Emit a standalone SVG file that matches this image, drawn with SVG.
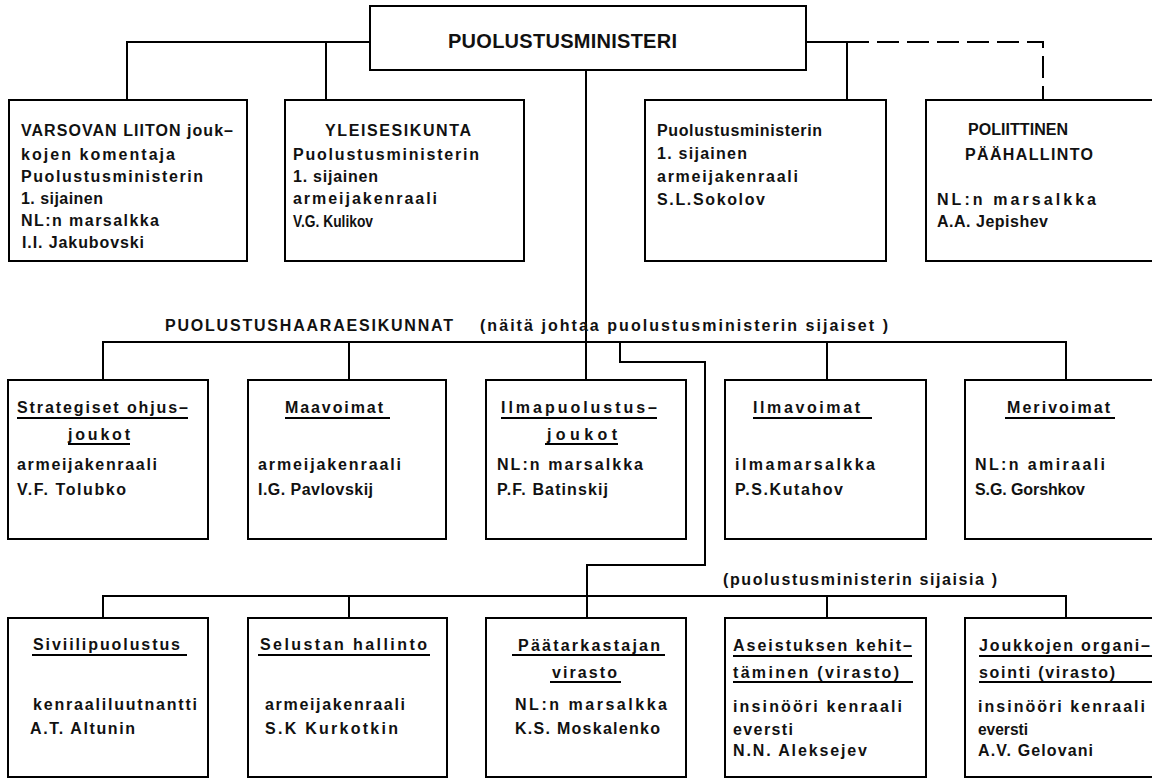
<svg xmlns="http://www.w3.org/2000/svg" width="1152" height="779" viewBox="0 0 1152 779">
  <style>
    .box { fill: #fff; stroke: #000; stroke-width: 2; }
    .ln { fill: none; stroke: #000; stroke-width: 2; }
    .dash { stroke-dasharray: 22 8; }
    .ul { stroke: #000; stroke-width: 1.8; }
    text { font-family: "Liberation Sans", Arial, sans-serif; font-weight: bold; font-size: 16px; fill: #111; }
    .title { font-size: 20px; }
  </style>
  <rect width="1152" height="779" fill="#fff"/>

  <!-- connectors -->
  <g id="connectors">
    <path class="ln" d="M370,42 H127 V100 M326,42 V100"/>
    <path class="ln" d="M806,42 H847 V100"/>
    <path class="ln dash" d="M847,42 H1043 V100"/>
    <path class="ln" d="M586,70 V380"/>
    <path class="ln" d="M103,380 V342 H1066 V380 M349,342 V380 M827,342 V380"/>
    <path class="ln" d="M620,342 V362 H705 V565 H587 V618"/>
    <path class="ln" d="M103,618 V596 H1066 V618 M349,596 V618 M827,596 V618"/>
  </g>

  <!-- top -->
  <g id="ministeri">
    <rect class="box" x="370" y="6" width="436" height="64"/>
    <text class="title" x="448" y="48" textLength="229">PUOLUSTUSMINISTERI</text>
  </g>

  <g id="varsovan-liitto">
    <rect class="box" x="9" y="100" width="238" height="161"/>
    <text x="21" y="136" textLength="212">VARSOVAN LIITON jouk–</text>
    <text x="21" y="160" textLength="154">kojen komentaja</text>
    <text x="21" y="182" textLength="182">Puolustusministerin</text>
    <text x="21" y="204" textLength="82">1. sijainen</text>
    <text x="21" y="226" textLength="138">NL:n marsalkka</text>
    <text x="22" y="248" textLength="122">I.I. Jakubovski</text>
  </g>

  <g id="yleisesikunta">
    <rect class="box" x="285" y="100" width="239" height="161"/>
    <text x="325" y="136" textLength="146">YLEISESIKUNTA</text>
    <text x="293" y="160" textLength="186">Puolustusministerin</text>
    <text x="293" y="182" textLength="85">1. sijainen</text>
    <text x="293" y="204" textLength="144">armeijakenraali</text>
    <text x="293" y="227" textLength="80" lengthAdjust="spacingAndGlyphs">V.G. Kulikov</text>
  </g>

  <g id="sijainen-sokolov">
    <rect class="box" x="645" y="100" width="241" height="161"/>
    <text x="657" y="136" textLength="165">Puolustusministerin</text>
    <text x="657" y="159" textLength="90">1. sijainen</text>
    <text x="657" y="182" textLength="141">armeijakenraali</text>
    <text x="657" y="205" textLength="108">S.L.Sokolov</text>
  </g>

  <g id="poliittinen-paahallinto">
    <rect class="box" x="926" y="100" width="240" height="161"/>
    <text x="968" y="135" textLength="100">POLIITTINEN</text>
    <text x="965" y="160" textLength="128">PÄÄHALLINTO</text>
    <text x="937" y="205" textLength="159">NL:n marsalkka</text>
    <text x="937" y="227" textLength="111">A.A. Jepishev</text>
  </g>

  <!-- service branch headquarters -->
  <g id="label-puolustushaarat">
    <text x="165" y="331" textLength="288">PUOLUSTUSHAARAESIKUNNAT</text>
    <text x="480" y="331" textLength="408">(näitä johtaa puolustusministerin sijaiset )</text>
  </g>

  <g id="strategiset-ohjusjoukot">
    <rect class="box" x="8" y="380" width="200" height="159"/>
    <text x="17" y="413" textLength="171">Strategiset ohjus–</text>
    <line class="ul" x1="17" y1="418" x2="188" y2="418"/>
    <text x="68" y="440" textLength="62">joukot</text>
    <line class="ul" x1="68" y1="444" x2="130" y2="444"/>
    <text x="17" y="470" textLength="140">armeijakenraali</text>
    <text x="17" y="495" textLength="109">V.F. Tolubko</text>
  </g>

  <g id="maavoimat">
    <rect class="box" x="248" y="380" width="198" height="159"/>
    <text x="285" y="413" textLength="98">Maavoimat</text>
    <line class="ul" x1="285" y1="418" x2="390" y2="418"/>
    <text x="258" y="470" textLength="143">armeijakenraali</text>
    <text x="258" y="495" textLength="115">I.G. Pavlovskij</text>
  </g>

  <g id="ilmapuolustusjoukot">
    <rect class="box" x="486" y="380" width="200" height="159"/>
    <text x="501" y="413" textLength="156">Ilmapuolustus–</text>
    <line class="ul" x1="501" y1="418" x2="657" y2="418"/>
    <text x="547" y="440" textLength="70">joukot</text>
    <line class="ul" x1="545" y1="444" x2="618" y2="444"/>
    <text x="497" y="470" textLength="146">NL:n marsalkka</text>
    <text x="497" y="495" textLength="111">P.F. Batinskij</text>
  </g>

  <g id="ilmavoimat">
    <rect class="box" x="725" y="380" width="201" height="159"/>
    <text x="753" y="413" textLength="107">Ilmavoimat</text>
    <line class="ul" x1="753" y1="418" x2="872" y2="418"/>
    <text x="735" y="470" textLength="140">ilmamarsalkka</text>
    <text x="735" y="495" textLength="108">P.S.Kutahov</text>
  </g>

  <g id="merivoimat">
    <rect class="box" x="965" y="380" width="200" height="159"/>
    <text x="1007" y="413" textLength="103">Merivoimat</text>
    <line class="ul" x1="1005" y1="418" x2="1115" y2="418"/>
    <text x="975" y="470" textLength="130">NL:n amiraali</text>
    <text x="975" y="495" textLength="110">S.G. Gorshkov</text>
  </g>

  <!-- deputies -->
  <g id="label-sijaisia">
    <text x="723" y="585" textLength="274">(puolustusministerin sijaisia )</text>
  </g>

  <g id="siviilipuolustus">
    <rect class="box" x="8" y="618" width="200" height="159"/>
    <text x="33" y="650" textLength="147">Siviilipuolustus</text>
    <line class="ul" x1="32" y1="655" x2="187" y2="655"/>
    <text x="33" y="710" textLength="164">kenraaliluutnantti</text>
    <text x="30" y="734" textLength="105">A.T. Altunin</text>
  </g>

  <g id="selustan-hallinto">
    <rect class="box" x="248" y="618" width="199" height="159"/>
    <text x="260" y="650" textLength="167">Selustan hallinto</text>
    <line class="ul" x1="258" y1="655" x2="430" y2="655"/>
    <text x="265" y="710" textLength="140">armeijakenraali</text>
    <text x="265" y="734" textLength="133">S.K Kurkotkin</text>
  </g>

  <g id="paatarkastajan-virasto">
    <rect class="box" x="486" y="618" width="200" height="159"/>
    <text x="518" y="651" textLength="142">Päätarkastajan</text>
    <line class="ul" x1="512" y1="655" x2="665" y2="655"/>
    <text x="552" y="678" textLength="65">virasto</text>
    <line class="ul" x1="550" y1="682" x2="621" y2="682"/>
    <text x="515" y="710" textLength="152">NL:n marsalkka</text>
    <text x="515" y="734" textLength="145">K.S. Moskalenko</text>
  </g>

  <g id="aseistuksen-kehittaminen">
    <rect class="box" x="725" y="618" width="201" height="159"/>
    <text x="733" y="651" textLength="179">Aseistuksen kehit–</text>
    <line class="ul" x1="733" y1="656" x2="912" y2="656"/>
    <text x="733" y="678" textLength="166">täminen (virasto)</text>
    <line class="ul" x1="733" y1="682" x2="913" y2="682"/>
    <text x="733" y="712" textLength="169">insinööri kenraali</text>
    <text x="733" y="735" textLength="60">eversti</text>
    <text x="733" y="756" textLength="134">N.N. Aleksejev</text>
  </g>

  <g id="joukkojen-organisointi">
    <rect class="box" x="965" y="618" width="200" height="159"/>
    <text x="979" y="651" textLength="171">Joukkojen organi–</text>
    <line class="ul" x1="979" y1="656" x2="1152" y2="656"/>
    <text x="979" y="678" textLength="136">sointi (virasto)</text>
    <line class="ul" x1="979" y1="682" x2="1152" y2="682"/>
    <text x="978" y="712" textLength="167">insinööri kenraali</text>
    <text x="978" y="735" textLength="50" lengthAdjust="spacingAndGlyphs">eversti</text>
    <text x="978" y="756" textLength="115">A.V. Gelovani</text>
  </g>
</svg>
